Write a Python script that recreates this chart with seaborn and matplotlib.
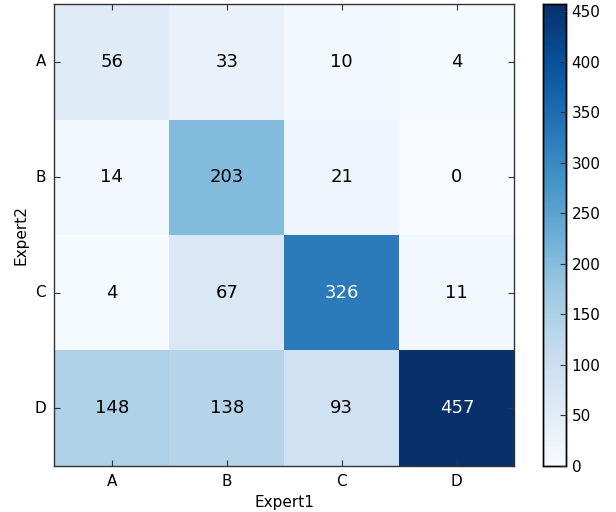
import matplotlib
matplotlib.use("Agg")
import matplotlib.pyplot as plt
import seaborn as sns
import numpy as np
import pandas as pd

labels = ["A", "B", "C", "D"]
row_A = [56, 33, 10, 4]
row_B = [14, 203, 21, 0]
row_C = [4, 67, 326, 11]
row_D = [148, 138, 93, 457]

df = pd.DataFrame([row_A, row_B, row_C, row_D], index=labels, columns=labels)

plt.rcParams['font.family'] = ['DejaVu Sans']
plt.rcParams['axes.axisbelow'] = False

fig = plt.figure(figsize=(6.16, 5.12), dpi=100)
ax = fig.add_axes([0.088, 0.09, 0.747, 0.902])
cax = fig.add_axes([0.882, 0.09, 0.037, 0.902])

sns.heatmap(df, ax=ax, cbar_ax=cax, cmap="Blues", vmin=0, vmax=457,
            annot=False, square=False, linewidths=0)
ax.set_axisbelow(False)

thresh = df.values.max() / 2
for i in range(len(labels)):
    for j in range(len(labels)):
        v = df.values[i, j]
        ax.text(j + 0.5, i + 0.5, str(v), ha="center", va="center",
                fontsize=13, color="white" if v > thresh else "black")

for s in ax.spines.values():
    s.set_visible(True)
    s.set_color("#333333")
    s.set_linewidth(1.0)
ax.tick_params(axis="both", direction="in", length=4, width=0.8, color="#333333",
               labelsize=11, labelcolor="black", top=True, right=True, bottom=True, left=True, pad=6)
ax.set_xticks(np.arange(4) + 0.5)
ax.set_yticks(np.arange(4) + 0.5)
ax.set_xticklabels(labels, rotation=0)
ax.set_yticklabels(labels, rotation=0)
ax.set_xlabel("Expert1", fontsize=11)
ax.set_ylabel("Expert2", fontsize=11)

cax.set_axisbelow(False)
cax.set_yticks([0, 50, 100, 150, 200, 250, 300, 350, 400, 450])
cax.tick_params(axis="y", direction="in", length=4, width=0.8, color="#333333",
                labelsize=11, labelcolor="black", pad=4)
for s in cax.spines.values():
    s.set_visible(True)
    s.set_color("black")
    s.set_linewidth(1.0)

fig.savefig("out.png", dpi=100)
